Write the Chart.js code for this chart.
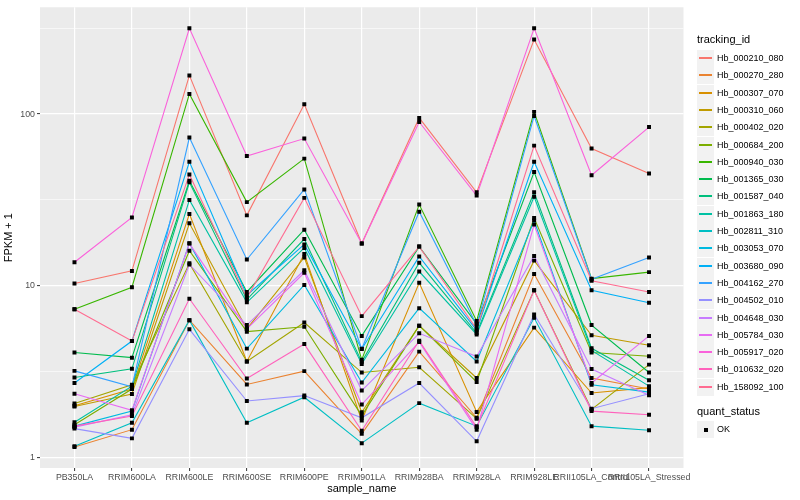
<!DOCTYPE html>
<html>
<head>
<meta charset="utf-8">
<script src="https://cdn.jsdelivr.net/npm/chart.js@4"></script>
<style>
  body { margin: 0; background: #fff; font-family: "Liberation Sans", Arial, sans-serif; }
  #wrap { position: relative; width: 800px; height: 500px; }
  #legend { position: absolute; left: 697px; top: 0; color: #000; }
  .lg-title { position: absolute; left: 0; font-size: 11px; white-space: nowrap; }
  .lg-item { position: absolute; left: 0; height: 17px; white-space: nowrap; }
  .lg-key { position: absolute; left: 0; top: 0; width: 17px; height: 17px; background: #f2f2f2; }
  .lg-key .ln { position: absolute; left: 2px; top: 7px; width: 13px; height: 2px; }
  .lg-key .pt { position: absolute; left: 7px; top: 7px; width: 4px; height: 4px; background: #000; }
  .lg-label { position: absolute; left: 20px; top: 3px; font-size: 9px; line-height: 11px; }
</style>
</head>
<body>
<div id="wrap">
  <canvas id="fpkmChart" width="800" height="500"></canvas>
  <div id="legend"></div>
</div>
<script>
// categories on the x axis
const sampleNames = ['PB350LA', 'RRIM600LA', 'RRIM600LE', 'RRIM600SE', 'RRIM600PE', 'RRIM901LA',
    'RRIM928BA', 'RRIM928LA', 'RRIM928LE', 'RRII105LA_Control', 'RRII105LA_Stressed'];

// FPKM + 1 per gene
const hb_000210_080 = [10.3, 12.2, 168, 25.7, 114, 17.6, 95, 35, 272, 63, 45];
const hb_000270_280 = [1.15, 1.45, 6.3, 2.66, 3.18, 1.37, 4.13, 1.7, 11.7, 2.9, 2.5];
const hb_000307_070 = [2.0, 2.5, 26.2, 3.62, 15.3, 1.64, 10.4, 1.84, 5.7, 2.37, 2.55];
const hb_000310_060 = [1.98, 2.34, 23.1, 5.6, 14.6, 1.83, 5.85, 2.9, 14.0, 5.14, 4.5];
const hb_000402_020 = [2.06, 2.65, 13.5, 3.62, 6.1, 3.12, 3.35, 1.68, 9.4, 1.9, 3.47];
const hb_000684_200 = [1.55, 2.5, 16, 5.4, 5.77, 1.75, 5.85, 2.75, 24.8, 4.08, 3.88];
const hb_000940_030 = [7.3, 9.8, 131, 30.7, 55, 3.7, 29.7, 6.23, 103, 11.0, 12.0];
const hb_001365_030 = [4.08, 3.81, 40.9, 9.2, 21.2, 5.1, 16.9, 6.0, 46, 5.9, 3.12];
const hb_001587_040 = [2.92, 3.28, 40, 8.3, 18.7, 3.6, 13.6, 5.3, 35, 4.32, 2.81];
const hb_001863_180 = [1.6, 2.6, 31.6, 8.0, 16.6, 3.5, 12.1, 5.2, 33, 4.2, 2.6];
const hb_002811_310 = [1.16, 1.59, 6.3, 1.59, 2.24, 1.21, 2.07, 1.52, 6.5, 1.52, 1.44];
const hb_003053_070 = [1.52, 1.86, 17.7, 4.3, 10.1, 2.73, 7.4, 3.62, 24, 2.65, 2.4];
const hb_003680_090 = [2.71, 4.76, 52.7, 8.8, 17.4, 4.28, 14.8, 5.5, 52.7, 9.4, 7.95];
const hb_004162_270 = [3.19, 2.58, 73, 14.2, 36.4, 4.3, 27, 5.9, 97.5, 10.9, 14.6];
const hb_004502_010 = [1.47, 1.29, 5.57, 2.13, 2.29, 1.7, 2.71, 1.24, 6.8, 1.92, 2.35];
const hb_004648_030 = [1.5, 1.77, 13.3, 5.9, 12.3, 2.45, 5.28, 3.87, 14.9, 3.27, 2.3];
const hb_005784_030 = [2.35, 1.88, 17.6, 5.6, 11.9, 2.03, 4.7, 1.45, 22.7, 2.71, 5.1];
const hb_005917_020 = [13.7, 25, 316, 57, 72, 17.6, 90, 33.5, 316, 44, 84];
const hb_010632_020 = [1.52, 1.74, 8.4, 2.88, 4.57, 1.43, 4.78, 1.5, 9.4, 1.86, 1.77];
const hb_158092_100 = [7.3, 4.76, 44.5, 8.5, 32.5, 6.65, 16.9, 5.6, 65.5, 10.7, 9.2];

const trackingIds = ['Hb_000210_080', 'Hb_000270_280', 'Hb_000307_070', 'Hb_000310_060', 'Hb_000402_020',
    'Hb_000684_200', 'Hb_000940_030', 'Hb_001365_030', 'Hb_001587_040', 'Hb_001863_180',
    'Hb_002811_310', 'Hb_003053_070', 'Hb_003680_090', 'Hb_004162_270', 'Hb_004502_010',
    'Hb_004648_030', 'Hb_005784_030', 'Hb_005917_020', 'Hb_010632_020', 'Hb_158092_100'];
const seriesValues = [hb_000210_080, hb_000270_280, hb_000307_070, hb_000310_060, hb_000402_020,
    hb_000684_200, hb_000940_030, hb_001365_030, hb_001587_040, hb_001863_180,
    hb_002811_310, hb_003053_070, hb_003680_090, hb_004162_270, hb_004502_010,
    hb_004648_030, hb_005784_030, hb_005917_020, hb_010632_020, hb_158092_100];

// ggplot default hue palette for 20 levels
const hueColors = ['#F8766D', '#EA8331', '#D89000', '#C09B00', '#A3A500', '#7CAE00', '#39B600', '#00BB4E',
    '#00BF7D', '#00C1A3', '#00BFC4', '#00BAE0', '#00B0F6', '#35A2FF', '#9590FF', '#C77CFF',
    '#E76BF3', '#FA62DB', '#FF62BC', '#FF6C91'];

const majorTicks = [1, 10, 100];
const minorTicks = [Math.sqrt(10), Math.sqrt(1000), Math.sqrt(100000)];
const isMajor = v => majorTicks.some(m => Math.abs(m - v) < 1e-6);

let datasets = seriesValues.map((vals, i) => ({
    label: trackingIds[i],
    data: vals.map((v, j) => ({ x: j, y: v })),
    borderColor: hueColors[i],
    borderWidth: 1.1,
    pointRadius: 0,
    fill: false,
    order: 30 - i
}));

// all points share one status
let okPoints = [];
seriesValues.forEach(vals => vals.forEach((v, j) => okPoints.push({ x: j, y: v })));
datasets.push({
    label: 'OK',
    type: 'scatter',
    data: okPoints,
    pointStyle: 'rect',
    pointRadius: 2.8,
    backgroundColor: '#000',
    borderWidth: 0,
    showLine: false,
    order: -1
});

const tickFont = { family: '"Liberation Sans", Arial, sans-serif', size: 8.8 };
const titleFont = { family: '"Liberation Sans", Arial, sans-serif', size: 11 };

new Chart(document.getElementById('fpkmChart').getContext('2d'), {
    type: 'line',
    data: { datasets: datasets },
    plugins: [{
        id: 'panelBg',
        beforeDraw(chart) {
            const a = chart.chartArea, c = chart.ctx;
            c.save();
            c.fillStyle = '#EBEBEB';
            c.fillRect(a.left, a.top, a.right - a.left, a.bottom - a.top);
            c.restore();
        }
    }],
    options: {
        responsive: false,
        animation: false,
        layout: { padding: { top: 5, right: 116.5, left: 0, bottom: 0 } },
        plugins: { legend: { display: false }, tooltip: { enabled: false } },
        scales: {
            x: {
                type: 'linear',
                min: -0.6,
                max: 10.6,
                afterBuildTicks: scale => { scale.ticks = sampleNames.map((n, i) => ({ value: i })); },
                afterFit: scale => { scale.height = 32; },
                ticks: {
                    autoSkip: false, maxRotation: 0, padding: 1,
                    color: '#4D4D4D', font: tickFont,
                    callback: v => sampleNames[v]
                },
                grid: { color: '#FFFFFF', lineWidth: 1.2, tickColor: '#333333', tickLength: 3, tickWidth: 1 },
                border: { display: false },
                title: { display: true, text: 'sample_name', color: '#000', font: titleFont, padding: { top: 0, bottom: 4 } }
            },
            y: {
                type: 'logarithmic',
                min: 0.867,
                max: 419,
                afterBuildTicks: scale => {
                    scale.ticks = majorTicks.concat(minorTicks).sort((a, b) => a - b).map(v => ({ value: v }));
                },
                afterFit: scale => { scale.width = 40; },
                ticks: {
                    color: '#4D4D4D', font: tickFont, padding: 2,
                    callback: v => isMajor(v) ? String(Math.round(v)) : ''
                },
                grid: {
                    color: '#FFFFFF',
                    lineWidth: ctx => (ctx.tick && isMajor(ctx.tick.value)) ? 1.2 : 0.6,
                    tickColor: ctx => (ctx.tick && isMajor(ctx.tick.value)) ? '#333333' : 'rgba(0,0,0,0)',
                    tickLength: 3,
                    tickWidth: 1
                },
                border: { display: false },
                title: { display: true, text: 'FPKM + 1', color: '#000', font: titleFont, padding: { top: 2, bottom: 0 } }
            }
        }
    }
});

// legend on the right, built from the same ids and colours
const legend = document.getElementById('legend');
let html = '<div class="lg-title" style="top:33px">tracking_id</div>';
trackingIds.forEach((id, i) => {
    const top = Math.round(50 + i * 17.3);
    html += '<div class="lg-item" style="top:' + top + 'px"><div class="lg-key"><div class="ln" style="background:' +
        hueColors[i] + '"></div></div><div class="lg-label">' + id + '</div></div>';
});
html += '<div class="lg-title" style="top:405px">quant_status</div>';
html += '<div class="lg-item" style="top:421px"><div class="lg-key"><div class="pt"></div></div><div class="lg-label">OK</div></div>';
legend.innerHTML = html;
</script>
</body>
</html>
